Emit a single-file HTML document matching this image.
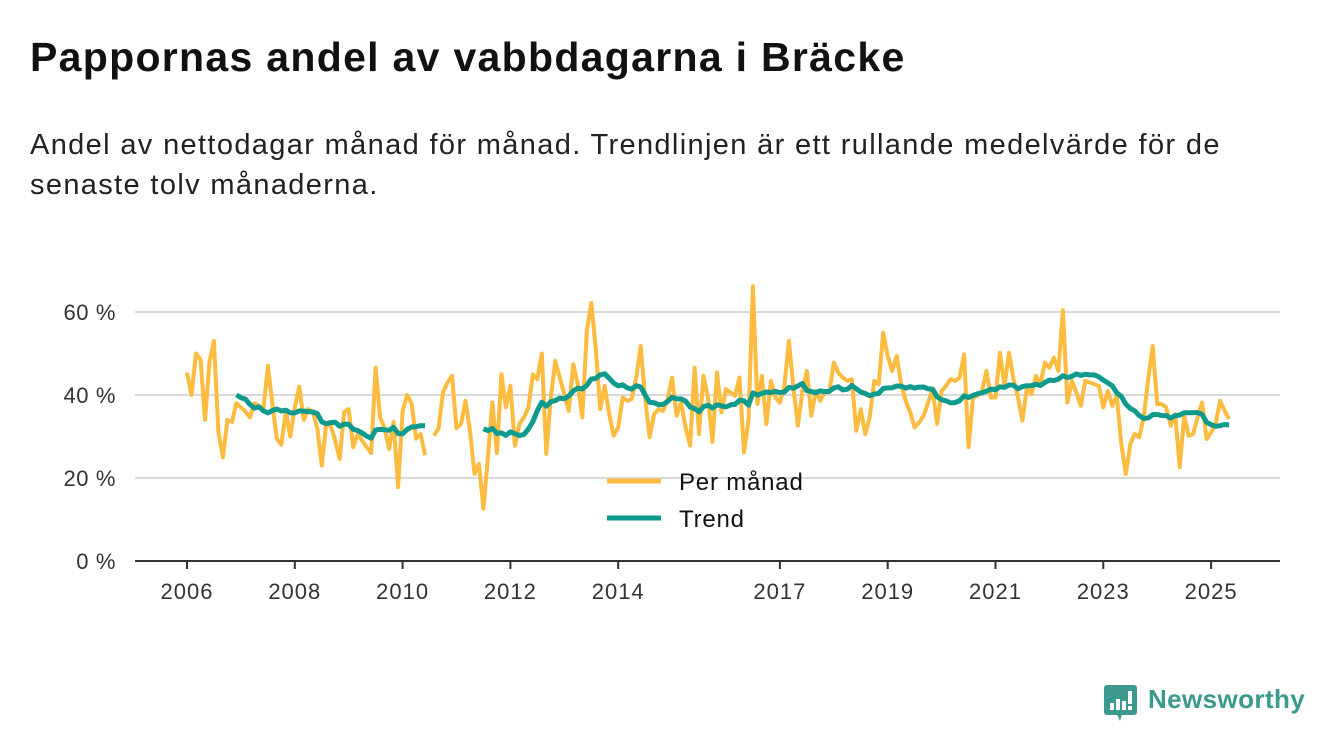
<!DOCTYPE html>
<html><head><meta charset="utf-8"><style>
body{margin:0;background:#fff;width:1340px;height:753px;overflow:hidden;font-family:"Liberation Sans",sans-serif;color:#111}
#title{position:absolute;left:30px;top:34px;font-size:41px;font-weight:bold;margin:0;letter-spacing:1.3px}
#sub{position:absolute;left:30px;top:125px;font-size:29px;line-height:40px;width:1240px;color:#222;letter-spacing:1.35px}
svg{position:absolute;left:0;top:0}
</style></head><body>
<h1 id="title">Pappornas andel av vabbdagarna i Bräcke</h1>
<div id="sub">Andel av nettodagar månad för månad. Trendlinjen är ett rullande medelvärde för de senaste tolv månaderna.</div>
<svg id="chart" width="1340" height="753"></svg>
<script>
const startYear = 2006;
const monthly = [45.4,40,50,48.6,34,48,53,31,25,34,33.5,38,37,36,34.6,38,37.4,36.6,47,38,29.5,28,36,30,37,42,34,36.6,36,32,23,33,32.6,29,24.6,36,36.6,27.4,30.6,29,27.4,26,46.6,34.6,32,27,33.5,17.8,36,40,38,29.5,30.6,25.5,null,
30.2,32,40.6,43,44.6,32,33,38.6,31.4,21,23.4,12.6,25,38.2,26,45,37,42.2,27.8,33,34.6,37,45,43.8,50,25.8,39.4,48.2,44.2,40.2,36.2,47.4,42.6,34.6,55.4,62.2,51.4,36.6,42.2,35.4,30.2,32.2,39.4,38.6,39,44.2,51.8,39.4,29.8,35.4,36.6,36.2,39,44.2,35,38.2,32.2,27.8,46.6,30.6,
44.6,39.4,28.7,45.4,35.8,41.4,40.6,39.8,44.2,26.2,33.8,66.2,37.8,44.6,33,43.4,39.4,38.2,42.2,53,41.8,32.6,41,45.8,35,41,38.6,41,40.6,47.8,45.4,44.2,43.4,43.8,31.4,36.6,30.6,34.6,43.4,42.6,55,49.4,45.8,49.4,42.6,38.6,35.8,32.2,33.4,35,38.2,41.4,33,41,42.2,43.8,43.4,44.2,49.8,27.4,39.4,39.8,
41,45.8,39.4,39.4,50.2,42.2,50.2,43.8,39.4,33.8,41.8,40.2,44.6,42.6,47.8,46.6,49,45.8,60.4,38.2,43.4,40.6,37.4,43.4,43,42.6,42.2,37,41,37.4,39.8,28.2,21,28.2,30.6,29.8,34.6,43.8,51.8,37.8,37.8,37,32.6,35.4,22.6,35,30.2,30.6,34.6,38.2,29.4,31,33,38.6,36.2,34.2];
const yTicks = [0,20,40,60];
const yTickLabels = ["0 %","20 %","40 %","60 %"];
const xTickYears = [2006,2008,2010,2012,2014,2017,2019,2021,2023,2025];

// trend: rolling 12-month mean (null if any month in window missing)
const trend = monthly.map((v,i)=>{
  if(i<11) return null;
  const w = monthly.slice(i-11,i+1);
  if(w.some(x=>x===null)) return null;
  return w.reduce((a,b)=>a+b,0)/12;
});

const NS="http://www.w3.org/2000/svg";
const svg=document.getElementById('chart');
const X0=187, PXY=53.9, Y0=561, PXP=4.15, LEFT=135, RIGHT=1280;
const xScale = yr => X0 + (yr-startYear)*PXY;
const xMonth = i => xScale(startYear + i/12);
const yScale = v => Y0 - v*PXP;
function mk(tag,attrs){const e=document.createElementNS(NS,tag);for(const k in attrs)e.setAttribute(k,attrs[k]);svg.appendChild(e);return e;}

yTicks.forEach((t,k)=>{
  if(t>0){const g=mk('line',{x1:LEFT,x2:RIGHT,y1:yScale(t),y2:yScale(t),stroke:'#d9d9d9','stroke-width':2});
  
  }
  const tx=mk('text',{x:116,y:yScale(t)+8,'text-anchor':'end','font-size':22,'letter-spacing':0.6,fill:'#333','font-family':'Liberation Sans, sans-serif'});
  tx.textContent=yTickLabels[k];
  
  
});
const ax=mk('line',{x1:LEFT,x2:RIGHT,y1:Y0,y2:Y0,stroke:'#333','stroke-width':2});


xTickYears.forEach(yr=>{
  const x=xScale(yr);
  const tk=mk('line',{x1:x,x2:x,y1:Y0,y2:Y0+8,stroke:'#333','stroke-width':2});
  
  
  const tx=mk('text',{x:x,y:599,'text-anchor':'middle','font-size':22,'letter-spacing':1,fill:'#333','font-family':'Liberation Sans, sans-serif'});
  tx.textContent=yr;
  
  
});

function pathFor(arr){
  let d='',pen=false;
  arr.forEach((v,i)=>{
    if(v===null){pen=false;return;}
    d+=(pen?'L':'M')+xMonth(i).toFixed(1)+' '+yScale(v).toFixed(1)+' ';pen=true;
  });
  return d;
}
const pm=mk('path',{d:pathFor(monthly),fill:'none',stroke:'#fdbb3f','stroke-width':4,'stroke-linejoin':'round'});


const pt=mk('path',{d:pathFor(trend),fill:'none',stroke:'#0e9a8c','stroke-width':5,'stroke-linejoin':'round'});



// legend
const l1=mk('line',{x1:607,x2:661,y1:481,y2:481,stroke:'#fdbb3f','stroke-width':5});


const t1=mk('text',{x:679,y:490,'font-size':24,'letter-spacing':0.8,fill:'#111','font-family':'Liberation Sans, sans-serif'});t1.textContent='Per månad';


const l2=mk('line',{x1:607,x2:661,y1:518,y2:518,stroke:'#0e9a8c','stroke-width':5});


const t2=mk('text',{x:679,y:527,'font-size':24,'letter-spacing':0.8,fill:'#111','font-family':'Liberation Sans, sans-serif'});t2.textContent='Trend';


</script>
<svg width="1340" height="753" style="position:absolute;left:0;top:0">
  <g>
    <rect x="1104" y="685" width="33" height="30" rx="3" fill="#3b9a8d"/>
    <polygon points="1117,714 1122,714 1120,721" fill="#3b9a8d"/>
    <rect x="1110" y="703" width="4" height="7" fill="#fff"/>
    <rect x="1116" y="699" width="4" height="11" fill="#fff"/>
    <rect x="1122" y="701" width="4" height="9" fill="#fff"/>
    <rect x="1128" y="691" width="4" height="13" fill="#fff"/>
    <rect x="1128" y="706" width="4" height="4" fill="#fff"/>
  </g>
  <text x="1148" y="708" font-size="26" font-weight="bold" fill="#3b9a8d" letter-spacing="0.4" font-family="Liberation Sans, sans-serif">Newsworthy</text>
</svg>
</body></html>
